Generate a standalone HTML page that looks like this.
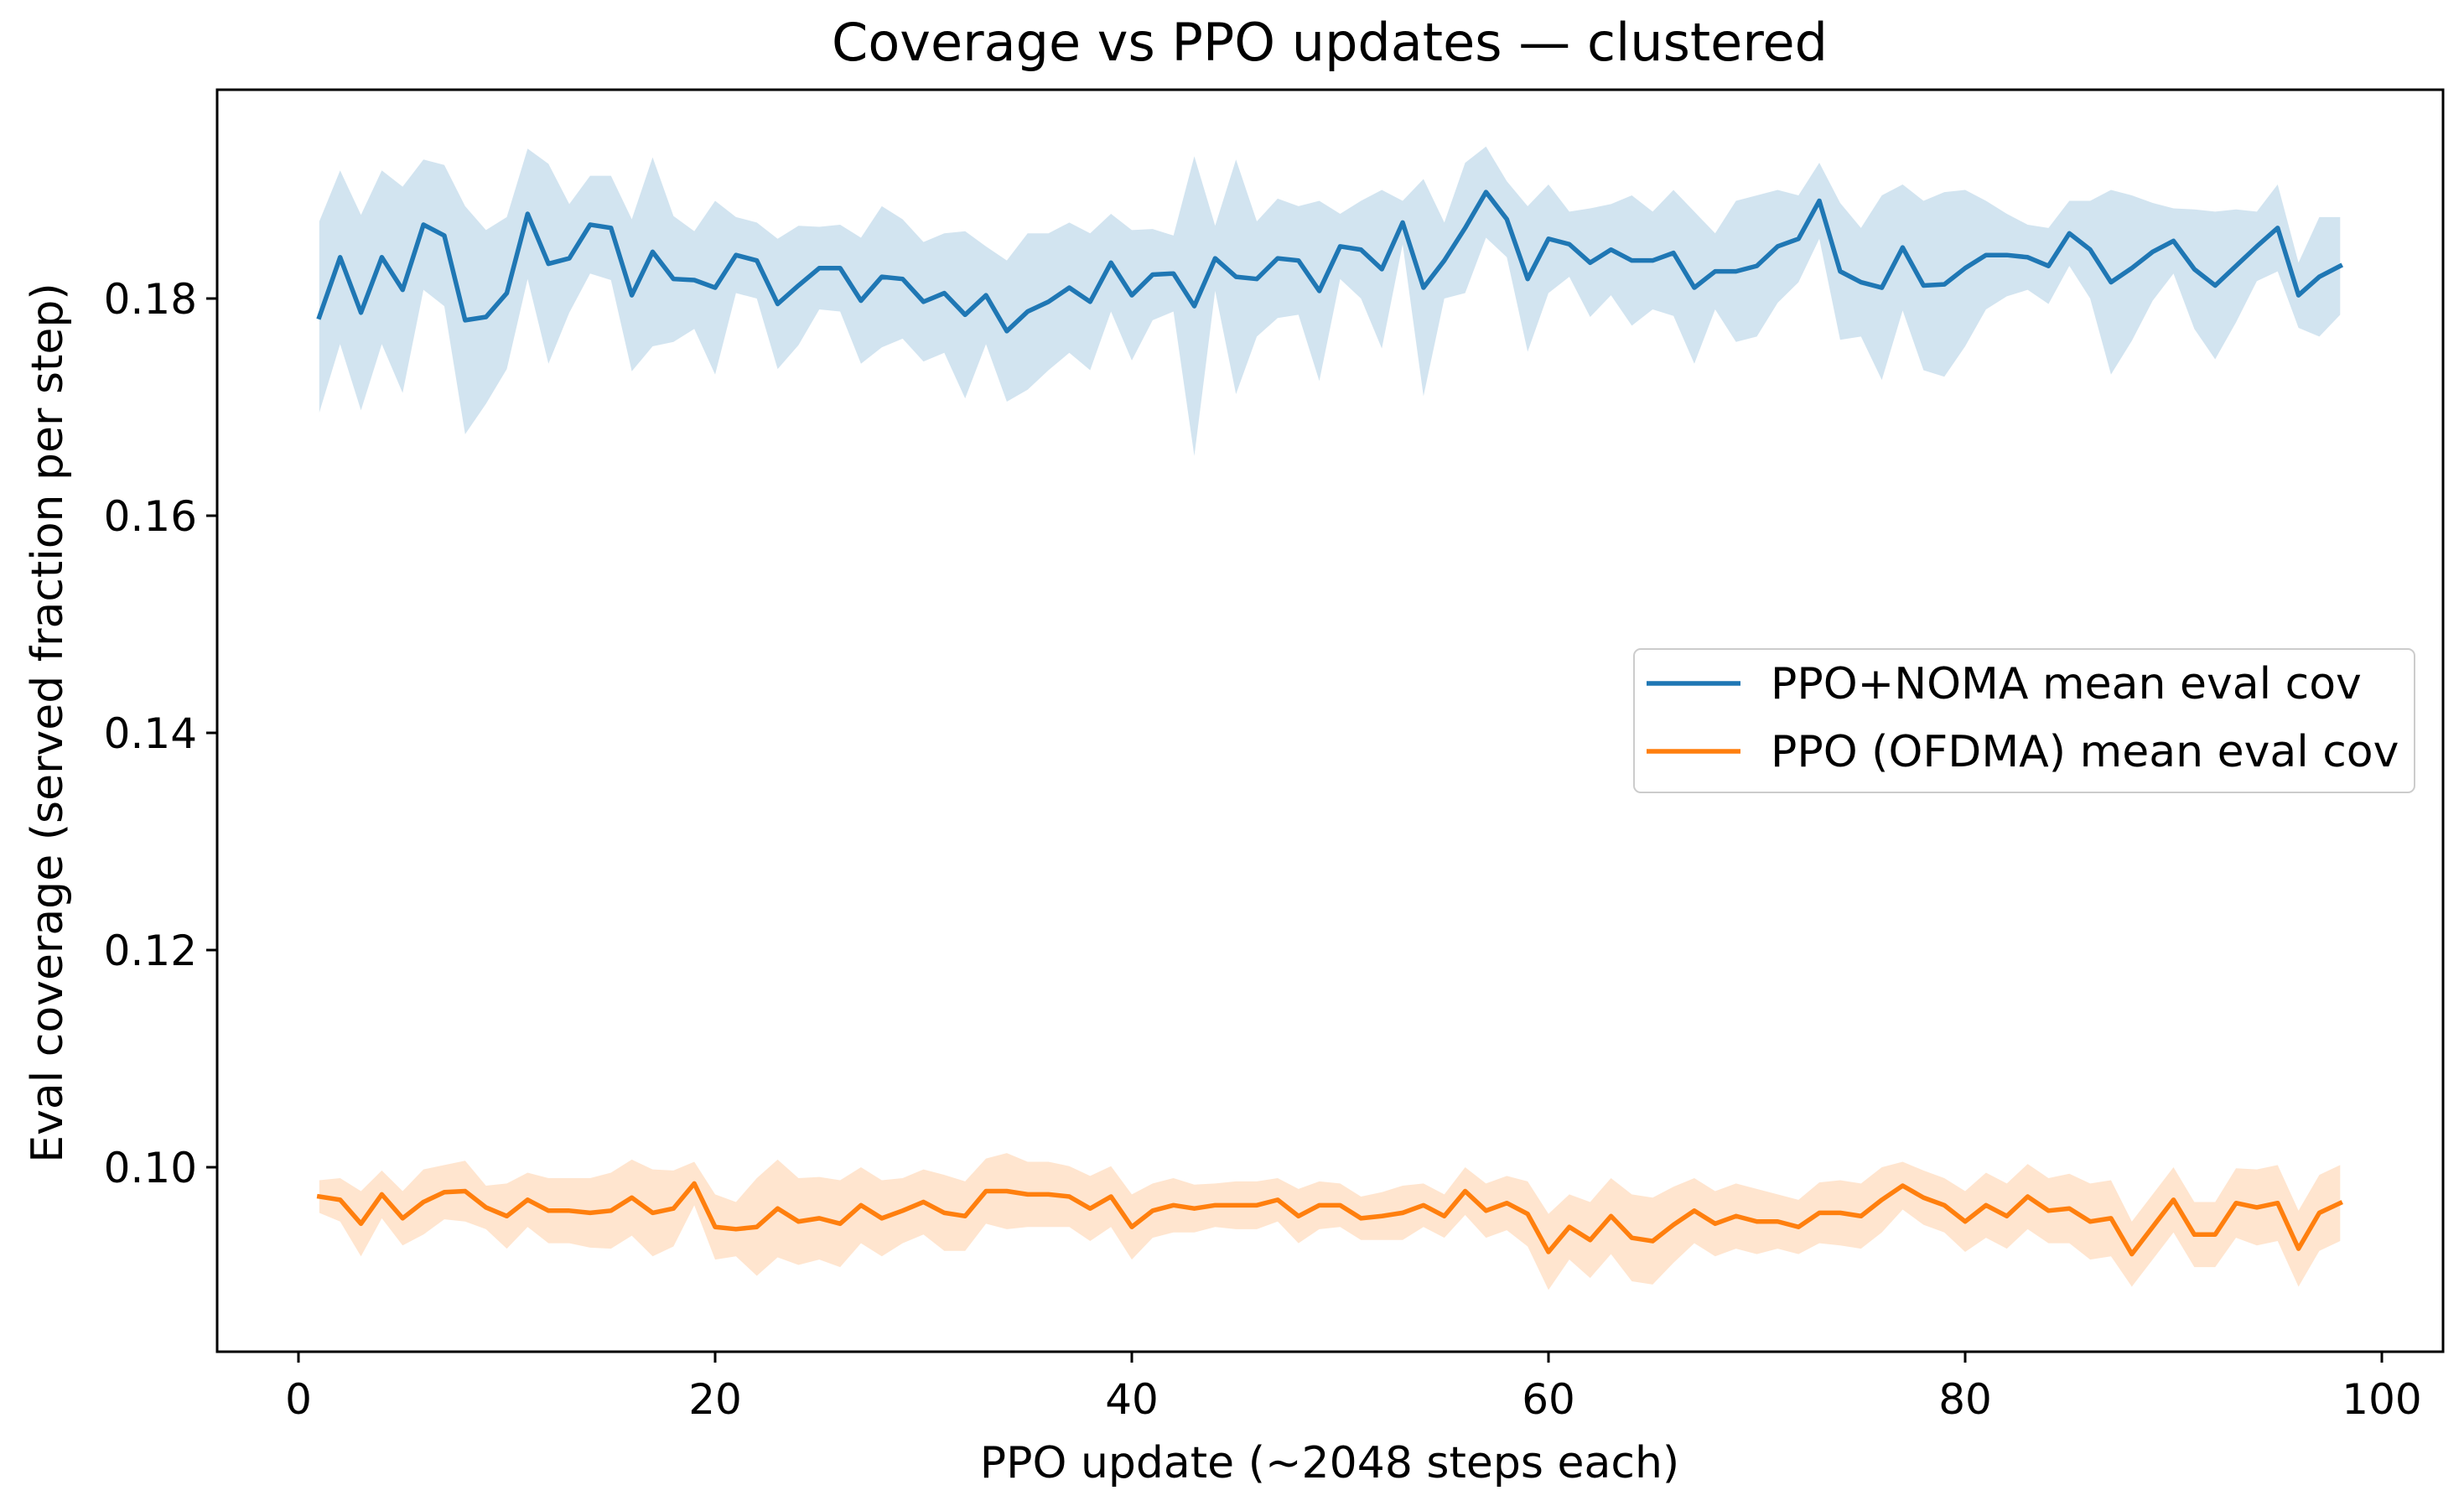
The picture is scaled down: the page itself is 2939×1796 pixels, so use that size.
<!DOCTYPE html>
<html><head><meta charset="utf-8"><style>
html,body{margin:0;padding:0;background:#fff;}
svg{display:block;font-family:"DejaVu Sans","Liberation Sans",sans-serif;}
</style></head><body>
<svg id="chart" width="2939" height="1796" viewBox="0 0 2939 1796" xmlns="http://www.w3.org/2000/svg">
<rect width="2939" height="1796" fill="#fff"/>
<text x="1586" y="72" font-size="62" text-anchor="middle" fill="#000">Coverage vs PPO updates — clustered</text>
<g id="bands"></g><g id="lines"></g>
<rect x="259" y="107" width="2655" height="1505" fill="none" stroke="#000" stroke-width="3"/>
<g id="xticks"></g><g id="yticks"></g>
<text x="1586" y="1762" font-size="52" text-anchor="middle" fill="#000">PPO update (~2048 steps each)</text>
<text transform="translate(74,862) rotate(-90)" font-size="52" text-anchor="middle" fill="#000">Eval coverage (served fraction per step)</text>
<g>
<rect x="1949" y="774" width="931" height="171" rx="8" fill="#fff" fill-opacity="0.8" stroke="#ccc" stroke-width="2"/>
<line x1="1964" y1="815" x2="2076" y2="815" stroke="#1f77b4" stroke-width="5.5"/>
<text x="2112" y="833" font-size="52" fill="#000">PPO+NOMA mean eval cov</text>
<line x1="1964" y1="896" x2="2076" y2="896" stroke="#ff7f0e" stroke-width="5.5"/>
<text x="2112" y="914" font-size="52" fill="#000">PPO (OFDMA) mean eval cov</text>
</g>
</svg>
<script>
const xTicks=[0,20,40,60,80,100];
const yTicks=[0.10,0.12,0.14,0.16,0.18];
const yTickLabels=["0.10","0.12","0.14","0.16","0.18"];
const nomaMean=[0.1783,0.1838,0.1787,0.1838,0.1808,0.1868,0.1858,0.1780,0.1783,0.1805,0.1878,0.1832,0.1837,0.1868,0.1865,0.1803,0.1843,0.1818,0.1817,0.1810,0.1840,0.1835,0.1795,0.1812,0.1828,0.1828,0.1798,0.1820,0.1818,0.1797,0.1805,0.1785,0.1803,0.1770,0.1788,0.1797,0.1810,0.1797,0.1833,0.1803,0.1822,0.1823,0.1793,0.1837,0.1820,0.1818,0.1837,0.1835,0.1807,0.1848,0.1845,0.1827,0.1870,0.1810,0.1835,0.1865,0.1898,0.1873,0.1818,0.1855,0.1850,0.1833,0.1845,0.1835,0.1835,0.1842,0.1810,0.1825,0.1825,0.1830,0.1848,0.1855,0.1890,0.1825,0.1815,0.1810,0.1847,0.1812,0.1813,0.1828,0.1840,0.1840,0.1838,0.1830,0.1860,0.1845,0.1815,0.1828,0.1843,0.1853,0.1827,0.1812,0.1830,0.1848,0.1865,0.1803,0.1820,0.1830];
const nomaSd=[0.0088,0.0080,0.0090,0.0080,0.0095,0.0060,0.0065,0.0105,0.0080,0.0070,0.0060,0.0092,0.0050,0.0045,0.0048,0.0070,0.0087,0.0058,0.0045,0.0080,0.0035,0.0035,0.0060,0.0055,0.0038,0.0040,0.0058,0.0065,0.0055,0.0055,0.0055,0.0077,0.0045,0.0065,0.0072,0.0063,0.0060,0.0063,0.0045,0.0060,0.0042,0.0035,0.0138,0.0030,0.0108,0.0053,0.0055,0.0050,0.0083,0.0030,0.0045,0.0073,0.0020,0.0100,0.0035,0.0060,0.0042,0.0035,0.0067,0.0050,0.0030,0.0050,0.0042,0.0060,0.0045,0.0058,0.0070,0.0035,0.0065,0.0065,0.0052,0.0040,0.0035,0.0063,0.0050,0.0085,0.0058,0.0078,0.0085,0.0072,0.0050,0.0038,0.0030,0.0035,0.0030,0.0045,0.0085,0.0067,0.0045,0.0030,0.0055,0.0068,0.0052,0.0032,0.0040,0.0030,0.0055,0.0045];
const ofdmaMean=[0.0973,0.0970,0.0948,0.0975,0.0953,0.0968,0.0977,0.0978,0.0963,0.0955,0.0970,0.0960,0.0960,0.0958,0.0960,0.0972,0.0958,0.0962,0.0985,0.0945,0.0943,0.0945,0.0962,0.0950,0.0953,0.0948,0.0965,0.0953,0.0960,0.0968,0.0958,0.0955,0.0978,0.0978,0.0975,0.0975,0.0973,0.0962,0.0973,0.0945,0.0960,0.0965,0.0962,0.0965,0.0965,0.0965,0.0970,0.0955,0.0965,0.0965,0.0953,0.0955,0.0958,0.0965,0.0955,0.0978,0.0960,0.0967,0.0957,0.0922,0.0945,0.0933,0.0955,0.0935,0.0932,0.0947,0.0960,0.0948,0.0955,0.0950,0.0950,0.0945,0.0958,0.0958,0.0955,0.0970,0.0983,0.0972,0.0965,0.0950,0.0965,0.0955,0.0973,0.0960,0.0962,0.0950,0.0953,0.0920,0.0945,0.0970,0.0938,0.0938,0.0967,0.0963,0.0967,0.0925,0.0958,0.0967];
const ofdmaSd=[0.0015,0.0020,0.0030,0.0022,0.0025,0.0030,0.0025,0.0028,0.0020,0.0030,0.0025,0.0030,0.0030,0.0032,0.0035,0.0035,0.0040,0.0035,0.0020,0.0030,0.0025,0.0045,0.0045,0.0040,0.0038,0.0040,0.0035,0.0035,0.0030,0.0030,0.0035,0.0032,0.0030,0.0035,0.0030,0.0030,0.0028,0.0030,0.0028,0.0030,0.0025,0.0025,0.0022,0.0020,0.0022,0.0022,0.0020,0.0025,0.0022,0.0020,0.0020,0.0022,0.0025,0.0020,0.0020,0.0022,0.0025,0.0025,0.0030,0.0035,0.0030,0.0035,0.0035,0.0040,0.0040,0.0035,0.0030,0.0030,0.0030,0.0030,0.0025,0.0025,0.0028,0.0030,0.0030,0.0030,0.0022,0.0025,0.0025,0.0028,0.0030,0.0030,0.0030,0.0030,0.0032,0.0035,0.0035,0.0030,0.0030,0.0030,0.0030,0.0030,0.0032,0.0035,0.0035,0.0035,0.0035,0.0035];

const NS="http://www.w3.org/2000/svg";
const L=259,R=2914,T=107,B=1612;
const xs=v=>356+(v)*(2841-356)/100;
const ys=v=>356+(0.18-v)*1036/0.08;
function mk(tag,attrs,parent){const e=document.createElementNS(NS,tag);for(const k in attrs)e.setAttribute(k,attrs[k]);parent.appendChild(e);return e;}
const bands=document.getElementById('bands'),lines=document.getElementById('lines');
function series(mean,sd,color,name){
  const up=mean.map((m,i)=>xs(i+1)+','+ys(m+sd[i]));
  const lo=mean.map((m,i)=>xs(i+1)+','+ys(m-sd[i])).reverse();
  const p=mk('polygon',{points:up.concat(lo).join(' '),fill:color,'fill-opacity':0.2,stroke:'none'},bands);
  
  
  const l=mk('polyline',{points:mean.map((m,i)=>xs(i+1)+','+ys(m)).join(' '),fill:'none',stroke:color,'stroke-width':5.5,'stroke-linejoin':'round','stroke-linecap':'square'},lines);
  
  
}
series(nomaMean,nomaSd,'#1f77b4','noma');
series(ofdmaMean,ofdmaSd,'#ff7f0e','ofdma');
const xg=document.getElementById('xticks'),yg=document.getElementById('yticks');
xTicks.forEach(t=>{
  const ln=mk('line',{x1:xs(t),x2:xs(t),y1:B,y2:B+13,stroke:'#000','stroke-width':3},xg);
  
  
  const tx=mk('text',{x:xs(t),y:B+74,'font-size':50,'text-anchor':'middle',fill:'#000'},xg);
  tx.textContent=String(t);
  
  
});
yTicks.forEach((t,i)=>{
  const ln=mk('line',{x1:L-13,x2:L,y1:ys(t),y2:ys(t),stroke:'#000','stroke-width':3},yg);
  
  
  const tx=mk('text',{x:L-24,y:ys(t)+18,'font-size':50,'text-anchor':'end',fill:'#000'},yg);
  tx.textContent=yTickLabels[i];
  
  
});
</script>
</body></html>
